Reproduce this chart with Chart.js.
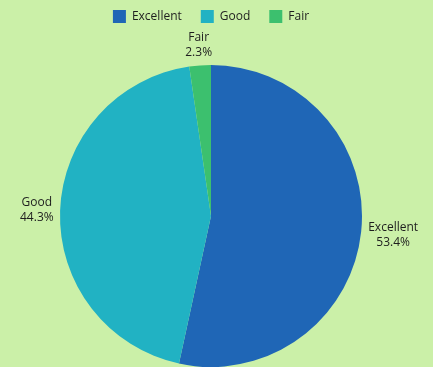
<!DOCTYPE html>
<html>
<head>
<meta charset="utf-8">
<script src="https://cdn.jsdelivr.net/npm/chart.js@4"></script>
<style>
  html, body { margin: 0; padding: 0; background: #cbf0a8; }
  #wrap { width: 433px; height: 367px; }
</style>
</head>
<body>
<div id="wrap"><canvas id="pie" width="433" height="367"></canvas></div>
<script>
  const labels = ["Excellent", "Good", "Fair"];
  const shares = [53.4, 44.3, 2.3];
  const colors = ["#1f66b6", "#21b2c3", "#3cc06e"];

  const FONT = "'Open Sans', sans-serif";

  // --- Legend sits close to the top; leave a gap under it before the pie ---
  const legendGap = {
    id: "legendGap",
    beforeInit(chart) {
      const fit = chart.legend.fit;
      chart.legend.fit = function () {
        fit.bind(chart.legend)();
        this.height = 74;
      };
    },
  };

  // --- Labels outside each slice: name on top, percent below ---
  const outerLabels = {
    id: "outerLabels",
    afterDatasetsDraw(chart) {
      const ctx = chart.ctx;
      const meta = chart.getDatasetMeta(0);
      ctx.save();
      ctx.font = "12px " + FONT;
      ctx.fillStyle = "#1e1e1e";
      ctx.textAlign = "center";
      ctx.textBaseline = "middle";
      meta.data.forEach((arc, i) => {
        const p = arc.getProps(["x", "y", "startAngle", "endAngle", "outerRadius"], true);
        const mid = (p.startAngle + p.endAngle) / 2;
        const pct = shares[i].toFixed(1) + "%";
        const halfW = Math.max(ctx.measureText(labels[i]).width, ctx.measureText(pct).width) / 2;
        const halfH = 13;
        const d = p.outerRadius + 6 + Math.abs(Math.cos(mid)) * halfW + Math.abs(Math.sin(mid)) * halfH;
        const x = p.x + Math.cos(mid) * d;
        const y = p.y + Math.sin(mid) * d;
        ctx.fillText(labels[i], x, y - 7.5);
        ctx.fillText(pct, x, y + 7.5);
      });
      ctx.restore();
    },
  };

  new Chart(document.getElementById("pie"), {
    type: "pie",
    data: {
      labels: labels,
      datasets: [
        {
          data: shares,
          backgroundColor: colors,
          borderWidth: 0,
        },
      ],
    },
    options: {
      responsive: false,
      animation: false,
      layout: { padding: { top: -9, left: 0, right: 11, bottom: -6 } },
      plugins: {
        legend: {
          position: "top",
          labels: {
            boxWidth: 13,
            boxHeight: 13,
            padding: 19,
            color: "#1e1e1e",
            font: { family: FONT, size: 12 },
          },
        },
        tooltip: { enabled: false },
      },
    },
    plugins: [legendGap, outerLabels],
  });
</script>
</body>
</html>
